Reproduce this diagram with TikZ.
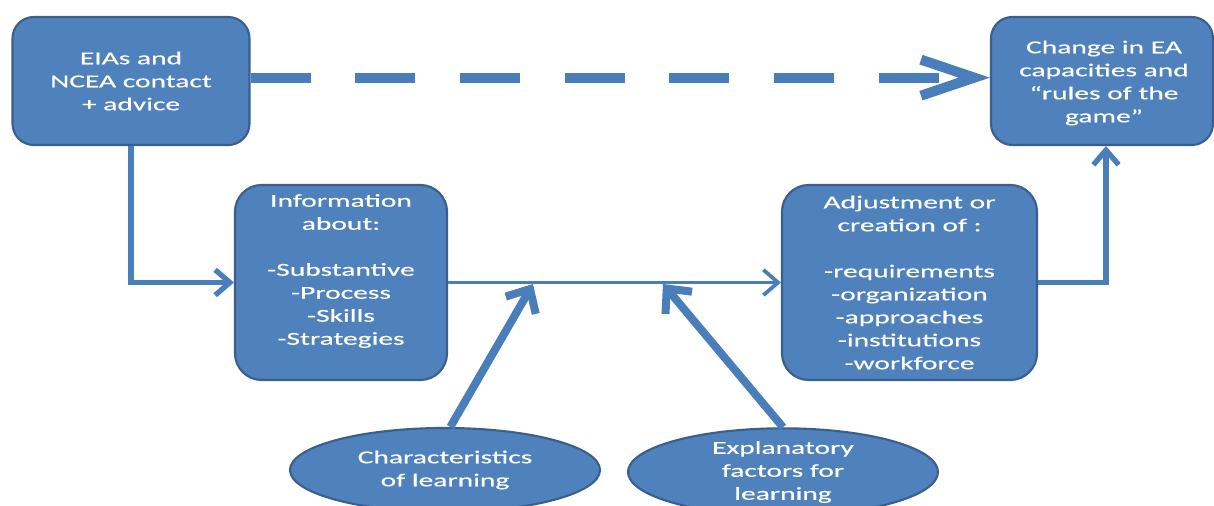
\documentclass[tikz,border=0pt]{standalone}
\usepackage{fontspec}
\setmainfont{Carlito}[FakeStretch=1.62,FakeBold=0.4]
\usetikzlibrary{arrows.meta,shapes.geometric,calc}
\definecolor{boxfill}{HTML}{4F81BD}
\definecolor{boxline}{HTML}{3A5F8D}
\definecolor{conn}{HTML}{4A7EBB}
\begin{document}
\begin{tikzpicture}[x=0.75pt,y=-0.75pt,
  box/.style={draw=boxline, line width=1.6pt, fill=boxfill, inner sep=0pt},
  txt/.style={text=white, align=center, inner sep=0pt, font=\fontsize{13.65}{17.25}\selectfont},
  oval/.style={ellipse, draw=boxline, line width=1.6pt, fill=boxfill, inner sep=0pt,
    minimum width=232.5pt, minimum height=63pt, text=white, align=center,
    font=\fontsize{13.65}{17.25}\selectfont},
  elbow/.style={draw=conn, line width=4pt, -{Straight Barb[length=11pt,width=19pt]}},
  thinarrow/.style={draw=conn, line width=2.8pt, -{Straight Barb[length=11pt,width=19pt]}},
  diag/.style={draw=conn, line width=6pt, -{Straight Barb[length=14pt,width=26pt]}},
  dasharrow/.style={draw=conn, line width=7.5pt, dash pattern=on 45pt off 33.5pt,
    -{Straight Barb[length=40pt,width=27pt]}}
]
\useasboundingbox (0,0) rectangle (1214,506);

\node[box, rounded corners=16pt, minimum width=177.75pt, minimum height=96pt, txt] (b1) at (131,81)
  {EIAs and\\NCEA contact\\+ advice};
\node[box, rounded corners=16pt, minimum width=166.5pt, minimum height=96pt] (b2) at (1102,81) {};
\node[txt] (b2t) at (1104,83)
  {Change in EA\\capacities and\\“rules of the\\game”};
\node[box, rounded corners=20pt, minimum width=159pt, minimum height=146.25pt] (b3) at (341,282.5) {};
\node[txt] (b3t) at (341,271)
  {Information\\about:\\[17.25pt]-Substantive\\-Process\\-Skills\\-Strategies};
\node[box, rounded corners=20pt, minimum width=191.25pt, minimum height=146.25pt, txt] (b4) at (909.5,282.5)
  {Adjustment or\\creation of :\\[17.25pt]-requirements\\-organization\\-approaches\\-institutions\\-workforce};

\node[oval] (e1) at (445,470) {Characteristics\\of learning};
\node[oval] (e2) at (783,472) {Explanatory\\factors for\\learning};

\coordinate (t1) at (533,284);
\coordinate (t2) at (663,284);

\draw[dasharrow] ([yshift=2.5pt]b1.east) -- ([yshift=2.5pt]b2.west);
\draw[elbow] (b1.south) |- (b3.west);
\draw[thinarrow] (b3.east) -- (b4.west);
\draw[elbow] (b4.east) -| ([xshift=3pt]b2.south);
\draw[diag] ([xshift=4pt]e1.north) -- (t1);
\draw[diag] (e2.north) -- (t2);
\end{tikzpicture}
\end{document}
